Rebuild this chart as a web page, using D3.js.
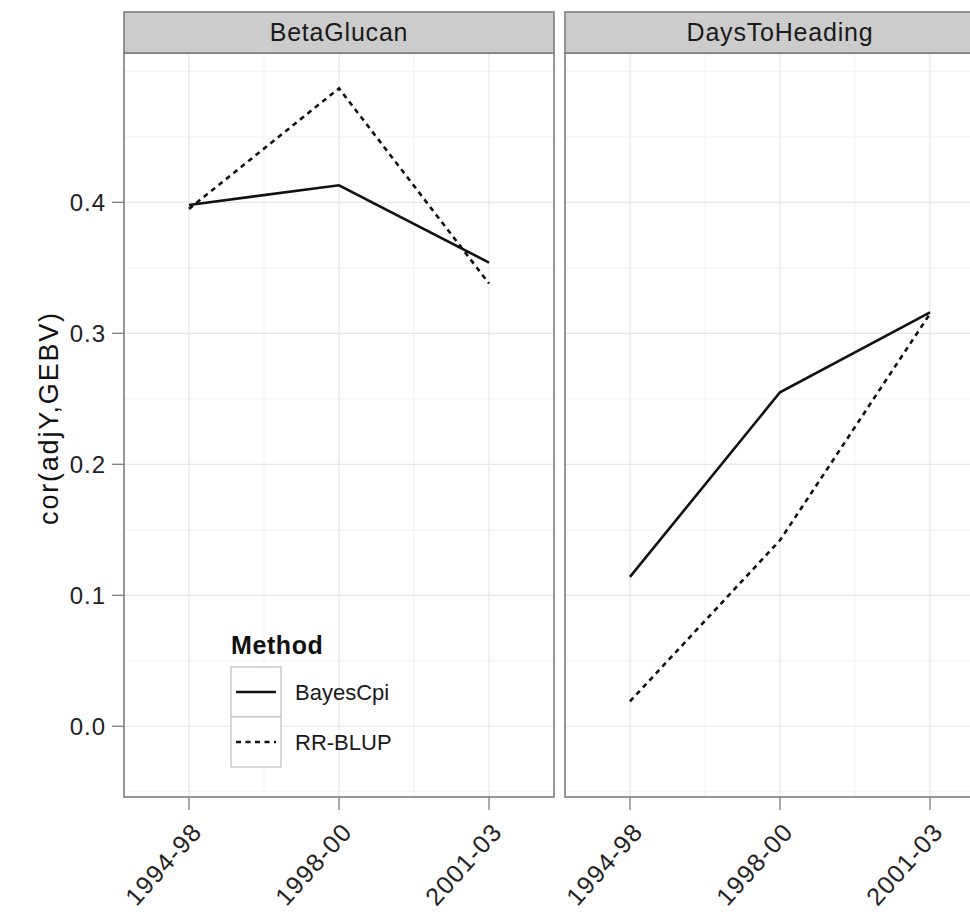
<!DOCTYPE html>
<html>
<head>
<meta charset="utf-8">
<script src="https://cdn.jsdelivr.net/npm/d3@7"></script>
<style>
    body { margin: 0; background: #fff; }
    svg { display: block; font-family: "Liberation Sans", Arial, sans-serif; }
</style>
</head>
<body>
<div id="chart"></div>
<script>
// data
const periods = ["1994-98", "1998-00", "2001-03"];
const traits = ["BetaGlucan", "DaysToHeading"];
const methods = ["BayesCpi", "RR-BLUP"];
const betaGlucanBayesCpi = [0.398, 0.413, 0.354];
const betaGlucanRRBLUP = [0.395, 0.487, 0.338];
const daysToHeadingBayesCpi = [0.114, 0.255, 0.316];
const daysToHeadingRRBLUP = [0.019, 0.142, 0.315];
const yTicks = [0.0, 0.1, 0.2, 0.3, 0.4];
const yMinorTicks = [-0.05, 0.05, 0.15, 0.25, 0.35, 0.45, 0.5];

const series = {
    BetaGlucan: { "BayesCpi": betaGlucanBayesCpi, "RR-BLUP": betaGlucanRRBLUP },
    DaysToHeading: { "BayesCpi": daysToHeadingBayesCpi, "RR-BLUP": daysToHeadingRRBLUP }
};
const dashes = { "BayesCpi": null, "RR-BLUP": "5,4.5" };

class FacetChart {
    constructor() {
        this.width = 970;
        this.height = 916;
        this.panelWidth = 430;
        this.panelLefts = [124, 565];
        this.stripTop = 12;
        this.panelTop = 53;
        this.panelBottom = 797;

        this.svg = d3.select('#chart').append('svg')
            .attr('width', this.width)
            .attr('height', this.height);

        this.y = d3.scaleLinear()
            .domain([-0.054, 0.514])
            .range([this.panelBottom, this.panelTop]);
    }

    initialize() {
        traits.forEach((trait, i) => this.drawPanel(trait, this.panelLefts[i]));
        this.drawYAxis();
        this.drawLegend();
    }

    drawPanel(trait, left) {
        const x = d3.scalePoint()
            .domain(periods)
            .range([left, left + this.panelWidth])
            .padding(0.433);
        const g = this.svg.append('g');
        const step = x.step();

        // minor grid first, then major
        g.selectAll('.hminor').data(yMinorTicks).join('line')
            .attr('x1', left).attr('x2', left + this.panelWidth)
            .attr('y1', d => this.y(d)).attr('y2', d => this.y(d))
            .attr('stroke', '#f4f4f4').attr('stroke-width', 1.2);
        g.selectAll('.vminor').data(periods.slice(1)).join('line')
            .attr('x1', d => x(d) - step / 2).attr('x2', d => x(d) - step / 2)
            .attr('y1', this.panelTop).attr('y2', this.panelBottom)
            .attr('stroke', '#f4f4f4').attr('stroke-width', 1.2);
        g.selectAll('.hmajor').data(yTicks).join('line')
            .attr('x1', left).attr('x2', left + this.panelWidth)
            .attr('y1', d => this.y(d)).attr('y2', d => this.y(d))
            .attr('stroke', '#e6e6e6').attr('stroke-width', 1.2);
        g.selectAll('.vmajor').data(periods).join('line')
            .attr('x1', d => x(d)).attr('x2', d => x(d))
            .attr('y1', this.panelTop).attr('y2', this.panelBottom)
            .attr('stroke', '#e6e6e6').attr('stroke-width', 1.2);

        const line = d3.line()
            .x((d, i) => x(periods[i]))
            .y(d => this.y(d));

        methods.forEach(m => {
            g.append('path')
                .datum(series[trait][m])
                .attr('d', line)
                .attr('fill', 'none')
                .attr('stroke', '#111')
                .attr('stroke-width', 2.6)
                .attr('stroke-dasharray', dashes[m]);
        });

        // panel border
        g.append('rect')
            .attr('x', left).attr('y', this.panelTop)
            .attr('width', this.panelWidth).attr('height', this.panelBottom - this.panelTop)
            .attr('fill', 'none').attr('stroke', '#7d7d7d').attr('stroke-width', 1.6);

        // strip
        g.append('rect')
            .attr('x', left).attr('y', this.stripTop)
            .attr('width', this.panelWidth).attr('height', this.panelTop - this.stripTop)
            .attr('fill', '#cccccc').attr('stroke', '#7d7d7d').attr('stroke-width', 1.6);
        g.append('text')
            .attr('x', left + this.panelWidth / 2)
            .attr('y', 41)
            .attr('text-anchor', 'middle')
            .style('font-size', '25px')
            .style('letter-spacing', '0.8px')
            .attr('fill', '#1a1a1a')
            .text(trait);

        // x axis ticks + rotated labels
        g.selectAll('.xtick').data(periods).join('line')
            .attr('x1', d => x(d)).attr('x2', d => x(d))
            .attr('y1', this.panelBottom).attr('y2', this.panelBottom + 13)
            .attr('stroke', '#7d7d7d').attr('stroke-width', 1.3);
        g.selectAll('.xlab').data(periods).join('text')
            .attr('transform', d => `translate(${x(d) + 8}, ${this.panelBottom + 30}) rotate(-48)`)
            .attr('text-anchor', 'end')
            .attr('dy', '0.35em')
            .style('font-size', '25px')
            .style('letter-spacing', '1.2px')
            .attr('fill', '#222')
            .text(d => d);
    }

    drawYAxis() {
        const left = this.panelLefts[0];
        const g = this.svg.append('g');
        g.selectAll('line').data(yTicks).join('line')
            .attr('x1', left - 12).attr('x2', left)
            .attr('y1', d => this.y(d)).attr('y2', d => this.y(d))
            .attr('stroke', '#7d7d7d').attr('stroke-width', 1.3);
        g.selectAll('text').data(yTicks).join('text')
            .attr('x', left - 18)
            .attr('y', d => this.y(d))
            .attr('dy', '0.36em')
            .attr('text-anchor', 'end')
            .style('font-size', '24px')
            .style('letter-spacing', '1px')
            .attr('fill', '#222')
            .text(d => d3.format('.1f')(d));

        this.svg.append('text')
            .attr('transform', `translate(58, ${(this.panelTop + this.panelBottom) / 2 - 7}) rotate(-90)`)
            .attr('text-anchor', 'middle')
            .style('font-size', '27px')
            .style('letter-spacing', '1.8px')
            .attr('fill', '#111')
            .text('cor(adjY,GEBV)');
    }

    drawLegend() {
        const g = this.svg.append('g').attr('transform', 'translate(231, 0)');
        g.append('text')
            .attr('x', 0).attr('y', 654)
            .style('font-size', '25px')
            .style('font-weight', 'bold')
            .style('letter-spacing', '0.6px')
            .attr('fill', '#111')
            .text('Method');

        methods.forEach((m, i) => {
            const top = 667 + i * 50;
            g.append('rect')
                .attr('x', 0).attr('y', top)
                .attr('width', 50).attr('height', 50)
                .attr('fill', '#fff').attr('stroke', '#c4c4c4').attr('stroke-width', 1.3);
            g.append('line')
                .attr('x1', 5).attr('x2', 45)
                .attr('y1', top + 25).attr('y2', top + 25)
                .attr('stroke', '#111').attr('stroke-width', 2.6)
                .attr('stroke-dasharray', dashes[m]);
            g.append('text')
                .attr('x', 64).attr('y', top + 25)
                .attr('dy', '0.36em')
                .style('font-size', '22px')
                .attr('fill', '#1a1a1a')
                .text(m);
        });
    }
}

const chart = new FacetChart();
chart.initialize();
</script>
</body>
</html>
